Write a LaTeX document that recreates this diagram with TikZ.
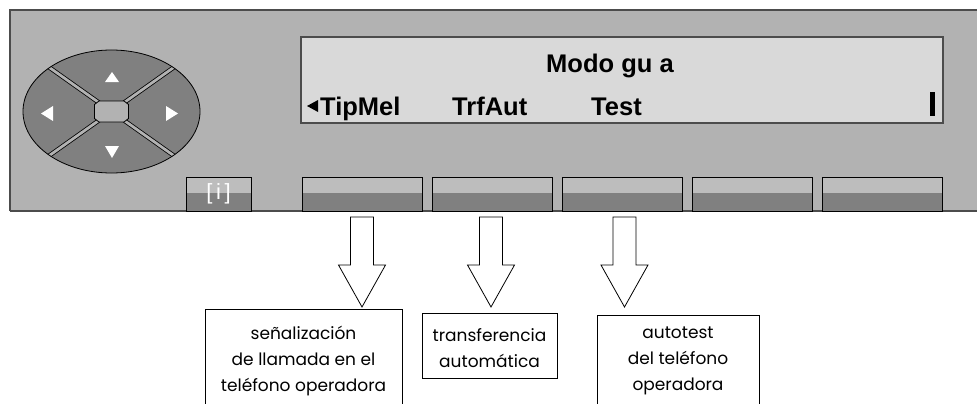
\documentclass[tikz,border=0pt]{standalone}
\usepackage{fontspec}
\setmainfont{Liberation Sans}
\newfontfamily\labelfont{Poppins}
\usetikzlibrary{calc}
\definecolor{panel}{gray}{0.70}
\definecolor{lcd}{gray}{0.85}
\definecolor{keytop}{gray}{0.74}
\definecolor{keybot}{gray}{0.50}
\definecolor{edge}{gray}{0.30}
\tikzset{
  softkey/.style={draw=black, line width=0.9pt, minimum width=120pt, minimum height=34pt,
    inner sep=0pt, fill=keytop,
    path picture={\fill[keybot] ([yshift=1pt]path picture bounding box.west) rectangle (path picture bounding box.south east);}},
  lcdtext/.style={font=\fontsize{25.5}{30}\selectfont\bfseries, inner sep=0pt, anchor=base west},
  labeltext/.style={font=\labelfont\fontsize{17}{26}\selectfont, inner sep=0pt, anchor=north, align=center},
  frame/.style={draw=black, line width=0.8pt},
  blockarrow/.style={draw=black, line width=0.8pt, fill=white, line join=miter},
}
\newcommand\mkarrow[2]{%
  \draw[blockarrow] let \p1=($(#1.south)+(#2pt,0pt)$) in
    (\x1-11.5pt,-217pt) -- (\x1+11.5pt,-217pt) -- (\x1+11.5pt,-265pt) -- (\x1+23.5pt,-265pt)
    -- (\x1,-307pt) -- (\x1-23.5pt,-265pt) -- (\x1-11.5pt,-265pt) -- cycle;}
\begin{document}
\begin{tikzpicture}[x=1pt,y=-1pt]
\useasboundingbox (0,0) rectangle (977,404);
% panel
\begin{scope}
\clip (0,0) rectangle (977,404);
\fill[panel] (10,10) rectangle (990,211);
\draw[edge, line width=1.2pt] (10,211) -- (10,10) -- (990,10);
\draw[edge, line width=2pt] (10,211) -- (990,211);
\end{scope}
% navigation pad
\fill[keybot] (111.5,111.5) ellipse [x radius=88.5, y radius=61.5];
\begin{scope}
\clip (111.5,111.5) ellipse [x radius=88.5, y radius=61.5];
\foreach \dx/\dy in {1/1,1/-1,-1/1,-1/-1}{
  \draw[black, line width=4.4pt] (111.5,111.5) -- ++(120*\dx,85*\dy);
  \draw[panel, line width=2.8pt] (111.5,111.5) -- ++(120*\dx,85*\dy);
}
\end{scope}
\filldraw[fill=panel, draw=black, line width=0.8pt]
  (99,101) -- (124,101) -- (128.5,104.5) -- (128.5,118.5) -- (124,122) -- (99,122) -- (94.5,118.5) -- (94.5,104.5) -- cycle;
\draw[black, line width=0.8pt] (111.5,111.5) ellipse [x radius=88.5, y radius=61.5];
\fill[white] (105,82) -- (119,82) -- (112,72) -- cycle;
\fill[white] (105,146) -- (119,146) -- (112,158) -- cycle;
\fill[white] (53,106) -- (53,121) -- (41,113.5) -- cycle;
\fill[white] (166,106) -- (166,121) -- (178,113.5) -- cycle;
% info key
\node[softkey, minimum width=65pt, font=\fontsize{22}{24}\selectfont, text=white] (ki) at (218.5,194) {[\,i\,]};
% soft keys
\node[softkey] (k1) at (362,194) {};
\node[softkey] (k2) at (492,194) {};
\node[softkey] (k3) at (622,194) {};
\node[softkey] (k4) at (752,194) {};
\node[softkey] (k5) at (882,194) {};
% display
\node[draw=edge, line width=1.5pt, fill=lcd, minimum width=642pt, minimum height=86pt, inner sep=0pt] (lcd) at (622,80) {};
\node[lcdtext] (title) at (546,73) {Modo gu a};
\node[lcdtext] (s1) at (320,115) {TipMel};
\node[lcdtext] (s2) at (452,115) {TrfAut};
\node[lcdtext] (s3) at (591,115) {Test};
\fill (318,100) -- (318,112) -- (307,106) -- cycle;
\fill (930,92) rectangle (935,116);
% arrows
\mkarrow{k1}{0}
\mkarrow{k2}{-1}
\mkarrow{k3}{2.5}
% boxes
\coordinate (b1a) at (205,404); \coordinate (b1b) at (402,309);
\draw[frame] (b1a) |- (b1b) -- (402,404);
\node[labeltext] (l1) at (303.5,320.8) {\strut señalización\\de llamada en el\\teléfono operadora};
\node[frame, minimum width=135pt, minimum height=65pt, inner sep=0pt] (b2) at (489.5,345.5) {};
\node[labeltext] (l2) at (489.5,322.8) {\strut transferencia\\automática};
\coordinate (b3a) at (597,404); \coordinate (b3b) at (759,315);
\draw[frame] (b3a) |- (b3b) -- (759,404);
\node[labeltext] (l3) at (678,319.8) {\strut autotest\\del teléfono\\operadora};
\end{tikzpicture}
\end{document}
